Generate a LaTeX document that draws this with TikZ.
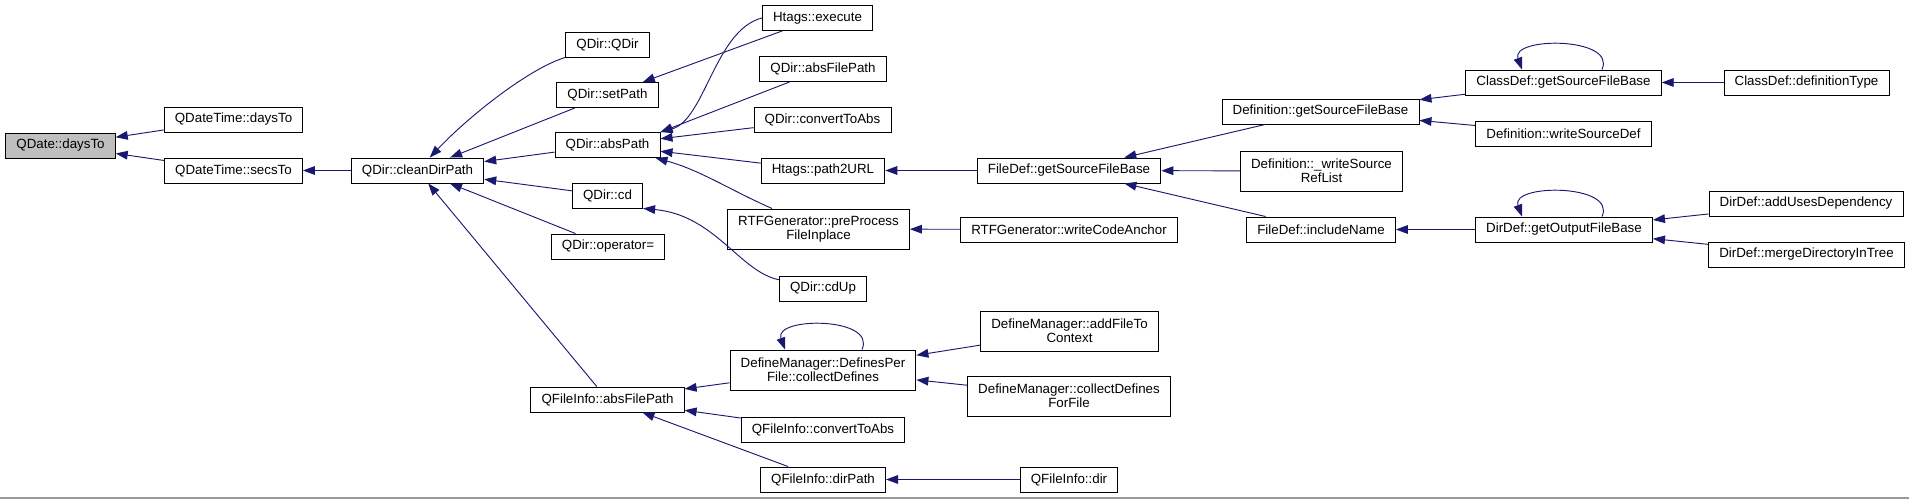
\documentclass[tikz,border=0pt]{standalone}
\usepackage{fontspec}
\setmainfont{Liberation Sans}
\usetikzlibrary{arrows.meta,calc}
\definecolor{callblue}{RGB}{25,25,112}

\begin{document}
\begin{tikzpicture}[x=0.75pt, y=-0.75pt,
        fn/.style={draw=black, line width=0.7pt, fill=white, inner xsep=8pt, inner ysep=1pt, minimum height=18.75pt, font=\fontsize{10}{10.5}\selectfont},
        fntwo/.style={fn, align=center, minimum height=30pt},
        root/.style={fn, fill=black!25},
        call/.style={draw=callblue, line width=0.7pt, -{Triangle[length=9pt,width=6.5pt]}}]
        \useasboundingbox (0,0) rectangle (1909,499);
        \node[root] (dd) at (60.5,145.5) {QDate::daysTo};
        \node[fn] (dtdays) at (233.5,119.5) {QDateTime::daysTo};
        \node[fn] (dtsecs) at (233.5,170.5) {QDateTime::secsTo};
        \node[fn] (clean) at (417.5,170.5) {QDir::cleanDirPath};
        \node[fn] (qdir) at (607.5,44.5) {QDir::QDir};
        \node[fn] (setpath) at (607.5,95) {QDir::setPath};
        \node[fn] (abspath) at (607.5,145) {QDir::absPath};
        \node[fn] (cd) at (607.5,195.5) {QDir::cd};
        \node[fn] (opeq) at (608,246.5) {QDir::operator=};
        \node[fn] (fiabs) at (607.5,399.5) {QFileInfo::absFilePath};
        \node[fn] (hexec) at (817.5,18) {Htags::execute};
        \node[fn] (dabsfile) at (823,69) {QDir::absFilePath};
        \node[fn] (dconv) at (822.5,119.5) {QDir::convertToAbs};
        \node[fn] (path2url) at (823,170.5) {Htags::path2URL};
        \node[fntwo] (rtfpre) at (818.5,229) {RTFGenerator::preProcess\\FileInplace};
        \node[fn] (cdup) at (823,288.5) {QDir::cdUp};
        \node[fntwo] (defper) at (823,370) {DefineManager::DefinesPer\\File::collectDefines};
        \node[fn] (ficonv) at (823,429.5) {QFileInfo::convertToAbs};
        \node[fn] (fidirpath) at (823,479.5) {QFileInfo::dirPath};
        \node[fn] (fdsrc) at (1069,170.5) {FileDef::getSourceFileBase};
        \node[fn] (rtfanchor) at (1069,229.5) {RTFGenerator::writeCodeAnchor};
        \node[fntwo] (addfile) at (1069.5,331) {DefineManager::addFileTo\\Context};
        \node[fntwo] (cdff) at (1069,396) {DefineManager::collectDefines\\ForFile};
        \node[fn] (fidir) at (1069,479.5) {QFileInfo::dir};
        \node[fn] (defsrc) at (1320.5,111.5) {Definition::getSourceFileBase};
        \node[fntwo] (defrefs) at (1321.5,171) {Definition::\_writeSource\\RefList};
        \node[fn] (fdinc) at (1321,229.5) {FileDef::includeName};
        \node[fn] (cdsrc) at (1563.5,82.5) {ClassDef::getSourceFileBase};
        \node[fn] (defsdef) at (1563.5,133.5) {Definition::writeSourceDef};
        \node[fn] (ddout) at (1564,229.5) {DirDef::getOutputFileBase};
        \node[fn] (cdtype) at (1806.5,82.5) {ClassDef::definitionType};
        \node[fn] (ddadd) at (1806,203.5) {DirDef::addUsesDependency};
        \node[fn] (ddmerge) at (1806.5,254.5) {DirDef::mergeDirectoryInTree};
        \draw[call] (dtdays) -- (dd);
        \draw[call] (dtsecs) -- (dd);
        \draw[call] (clean) -- (dtsecs);
        \draw[call] (qdir.south west) .. controls (530,68) and (470,115) .. (clean);
        \draw[call] (setpath) -- (clean);
        \draw[call] (abspath) -- (clean);
        \draw[call] (cd) -- (clean);
        \draw[call] (opeq) -- (clean);
        \draw[call] (fiabs) -- (clean);
        \draw[call] (hexec) -- (setpath);
        \draw[call] (hexec.west) .. controls (715,30) and (705,120) .. (abspath.north east);
        \draw[call] (dabsfile) -- (abspath.north east);
        \draw[call] (dconv) -- (abspath);
        \draw[call] (path2url) -- (abspath);
        \draw[call] (rtfpre) .. controls (730,190) and (700,170) .. (abspath);
        \draw[call] (cdup) .. controls (740,272) and (715,215) .. (cd.south east);
        \draw[call] (fdsrc) -- (path2url);
        \draw[call] (rtfanchor) -- (rtfpre);
        \draw[call] (defsrc) -- (fdsrc);
        \draw[call] (defrefs) -- (fdsrc);
        \draw[call] (fdinc) -- (fdsrc);
        \draw[call] (cdsrc) -- (defsrc);
        \draw[call] (defsdef) -- (defsrc);
        \draw[call] (cdtype) -- (cdsrc);
        \draw[call] (ddout) -- (fdinc);
        \draw[call] (ddadd) -- (ddout);
        \draw[call] (ddmerge) -- (ddout);
        \draw[call] (defper) -- (fiabs);
        \draw[call] (ficonv) -- (fiabs);
        \draw[call] (fidirpath) -- (fiabs);
        \draw[call] (addfile) -- (defper);
        \draw[call] (cdff) -- (defper);
        \draw[call] (fidir) -- (fidirpath);
        % recursive calls
        \draw[call] ($(cdsrc.north)+(38.5,0)$) .. controls +(15,-33) and +(-12,-33) .. ($(cdsrc.north)+(-41.5,0)$);
        \draw[call] ($(ddout.north)+(38,0)$) .. controls +(15,-33) and +(-12,-33) .. ($(ddout.north)+(-42,0)$);
        \draw[call] ($(defper.north)+(39,0)$) .. controls +(15,-33) and +(-12,-33) .. ($(defper.north)+(-38,0)$);
        \draw[black!40, line width=1pt] (0,498) -- (1909,498);
\end{tikzpicture}
\end{document}
